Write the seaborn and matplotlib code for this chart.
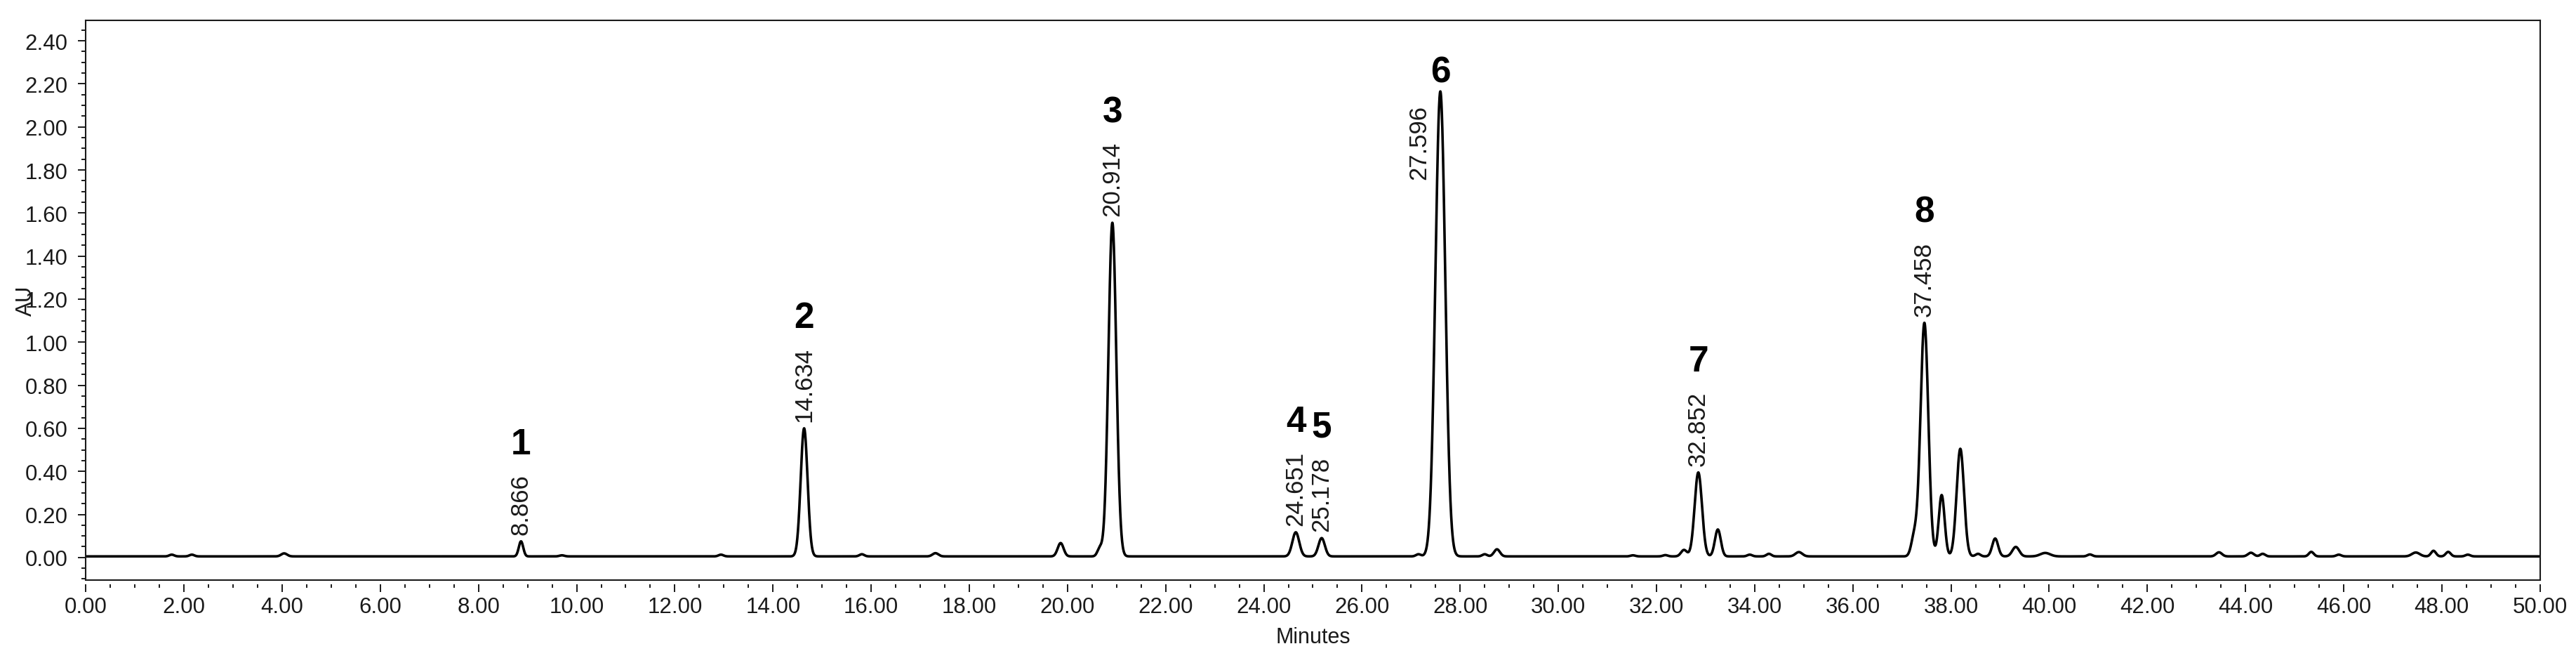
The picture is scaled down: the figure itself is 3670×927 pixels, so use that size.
"""HPLC 色谱图 (0-50 min), 8 个标注峰, 按峰表重建信号."""

import matplotlib
matplotlib.use("Agg")
import matplotlib.pyplot as plt
from matplotlib.ticker import (FixedLocator, MultipleLocator,
                               FormatStrFormatter)
import numpy as np
import pandas as pd
import seaborn as sns

# ---- 峰表: 保留时间 / 峰高 AU / 峰宽 sigma (min) ----
peak_times = [
    1.75, 2.16, 4.04, 8.866, 9.70, 12.94, 14.634, 15.81, 17.31,
    19.86, 20.66, 20.914, 24.651, 25.178, 27.15, 27.596, 28.50, 28.75,
    31.52, 32.18, 32.56, 32.852, 33.25, 33.90, 34.29, 34.90,
    37.25, 37.458, 37.81, 38.19, 38.55, 38.90, 39.32, 39.92, 40.83,
    43.46, 44.11, 44.35, 45.34, 45.90, 47.47, 47.83, 48.13, 48.53,
]
peak_heights = [
    0.008, 0.008, 0.014, 0.070, 0.005, 0.008, 0.595, 0.010, 0.015,
    0.062, 0.038, 1.550, 0.112, 0.085, 0.010, 2.160, 0.010, 0.033,
    0.005, 0.006, 0.030, 0.390, 0.125, 0.008, 0.012, 0.020,
    0.090, 1.085, 0.285, 0.500, 0.012, 0.083, 0.044, 0.016, 0.009,
    0.019, 0.017, 0.012, 0.021, 0.008, 0.018, 0.026, 0.021, 0.008,
]
peak_sigmas = [
    0.05, 0.05, 0.06, 0.045, 0.05, 0.05, 0.070, 0.05, 0.06,
    0.06, 0.05, 0.080, 0.070, 0.065, 0.05, 0.100, 0.05, 0.06,
    0.05, 0.05, 0.06, 0.075, 0.060, 0.05, 0.05, 0.07,
    0.06, 0.080, 0.060, 0.075, 0.05, 0.06, 0.07, 0.10, 0.05,
    0.06, 0.06, 0.05, 0.05, 0.05, 0.08, 0.05, 0.05, 0.05,
]
baseline_au = 0.005

# ---- 标注峰 ----
label_numbers = ["1", "2", "3", "4", "5", "6", "7", "8"]
label_rts = ["8.866", "14.634", "20.914", "24.651", "25.178",
             "27.596", "32.852", "37.458"]

# ---- 刻度 ----
x_major_ticks = [0, 2, 4, 6, 8, 10, 12, 14, 16, 18, 20, 22, 24, 26,
                 28, 30, 32, 34, 36, 38, 40, 42, 44, 46, 48, 50]
y_major_ticks = [0.0, 0.2, 0.4, 0.6, 0.8, 1.0, 1.2, 1.4, 1.6, 1.8,
                 2.0, 2.2, 2.4]


def build_trace():
    t = np.linspace(0.0, 50.0, 20001)
    y = np.full_like(t, baseline_au)
    for t0, h, s in zip(peak_times, peak_heights, peak_sigmas):
        y += h * np.exp(-0.5 * ((t - t0) / s) ** 2)
    return pd.DataFrame({"Minutes": t, "AU": y})


def main():
    sns.set_theme(style="ticks")
    plt.rcParams["font.family"] = ["Liberation Sans", "DejaVu Sans"]
    ink = "#1a1a1a"

    df = build_trace()
    fig = plt.figure(figsize=(36.7, 9.28), dpi=100)
    ax = fig.add_axes([0.03332, 0.10884, 0.95270, 0.85883])

    sns.lineplot(data=df, x="Minutes", y="AU", ax=ax, color="black",
                 linewidth=2.6, estimator=None, sort=False)
    ax.set_xlim(0, 50)
    ax.set_ylim(-0.105, 2.495)

    for sp in ax.spines.values():
        sp.set_visible(True)
        sp.set_linewidth(1.5)
        sp.set_color(ink)

    # y 轴
    ax.yaxis.set_major_locator(FixedLocator(y_major_ticks))
    ax.yaxis.set_minor_locator(MultipleLocator(0.05))
    ax.yaxis.set_major_formatter(FormatStrFormatter("%.2f"))
    ax.tick_params(axis="y", which="major", direction="out", length=7.6,
                   width=1.4, pad=11, labelsize=22.5, colors=ink)
    ax.tick_params(axis="y", which="minor", direction="out", length=4,
                   width=1.4, colors=ink)
    ax.set_ylabel("AU", fontsize=22.5, color=ink)
    ax.yaxis.set_label_coords(-0.0201, 0.5)

    # x 轴: 刻度略低于底边, 用 secondary axis 实现
    ax.tick_params(axis="x", which="both", bottom=False, labelbottom=False)
    ax.set_xlabel("")
    sec = ax.secondary_xaxis(-0.0075)
    sec.spines["bottom"].set_visible(False)
    sec.xaxis.set_major_locator(FixedLocator(x_major_ticks))
    sec.xaxis.set_minor_locator(MultipleLocator(0.5))
    sec.xaxis.set_major_formatter(FormatStrFormatter("%.2f"))
    sec.tick_params(axis="x", which="major", direction="out", length=7.6,
                    width=1.4, pad=5, labelsize=22.5, colors=ink)
    sec.tick_params(axis="x", which="minor", direction="out", length=3.8,
                    width=1.4, colors=ink)
    sec.set_xlabel("Minutes", fontsize=22, color=ink, labelpad=9)

    # 峰标注
    t = df["Minutes"].to_numpy()
    y = df["AU"].to_numpy()
    for num, rt in zip(label_numbers, label_rts):
        t0 = float(rt)
        win = np.abs(t - t0) < 0.05
        apex = y[win].max()
        if num == "6":
            # 6 号峰的保留时间写在峰左侧
            ax.annotate(rt, xy=(t0, apex), xytext=(-30, -19),
                        textcoords="offset pixels", rotation=90,
                        ha="center", va="top", fontsize=25, color=ink)
            ax.annotate(num, xy=(t0, apex), xytext=(0, 14),
                        textcoords="offset pixels", ha="center",
                        va="baseline", fontsize=37, fontweight="bold",
                        color="black")
            continue
        rt_txt = ax.annotate(rt, xy=(t0, apex), xytext=(0, 10),
                             textcoords="offset pixels", rotation=90,
                             ha="center", va="bottom", fontsize=25,
                             color=ink)
        ax.annotate(num, xy=(0.5, 1.0), xycoords=rt_txt, xytext=(0, 28),
                    textcoords="offset pixels", ha="center", va="baseline",
                    fontsize=37, fontweight="bold", color="black")

    fig.savefig("out.png", dpi=100, facecolor="white")
    plt.close(fig)


if __name__ == "__main__":
    main()
